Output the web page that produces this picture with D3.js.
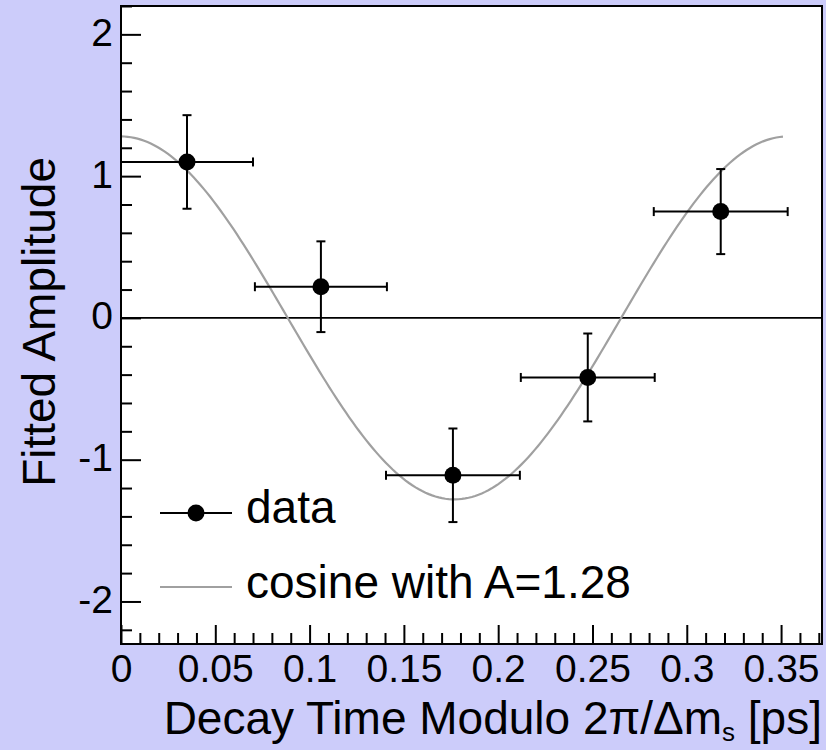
<!DOCTYPE html>
<html>
<head>
<meta charset="utf-8">
<script src="https://cdn.jsdelivr.net/npm/d3@7"></script>
<style>
  html, body { margin: 0; padding: 0; background: #ccccfa; }
  svg { display: block; }
  text { font-family: "Liberation Sans", Arial, Helvetica, sans-serif; fill: #000; }
</style>
</head>
<body>
<svg id="chart" width="826" height="750"></svg>
<script>
// ---- data ----
const binCenters = [0.035, 0.106, 0.176, 0.2475, 0.318];
const binHalfWidths = [0.035, 0.035, 0.0355, 0.0355, 0.0355];
const amplitudes = [1.10, 0.22, -1.11, -0.42, 0.75];
const amplitudeErrors = [0.33, 0.32, 0.33, 0.31, 0.30];

const cosineAmplitude = 1.28;
const cosinePeriod = 0.3536;   // 2*pi / 17.77 ps^-1
const cosineEnd = 0.351;

const xMajorTicks = [0, 0.05, 0.1, 0.15, 0.2, 0.25, 0.3, 0.35];
const xTickLabels = ["0", "0.05", "0.1", "0.15", "0.2", "0.25", "0.3", "0.35"];
const yMajorTicks = [-2, -1, 0, 1, 2];
const yTickLabels = ["-2", "-1", "0", "1", "2"];
const xDomain = [0, 0.3717];
const yDomain = [-2.3, 2.2];

const legendLabels = ["data", "cosine with A=1.28"];

// ---- layout ----
const svg = d3.select("#chart");
const L = 121, T = 6, R = 822, B = 644;
const x = d3.scaleLinear().domain(xDomain).range([L, R]);
const y = d3.scaleLinear().domain(yDomain).range([B, T]);

// plot area
svg.append("rect").attr("x", L).attr("y", T).attr("width", R - L).attr("height", B - T)
  .attr("fill", "#fff");

// minor ticks
const xMinor = d3.range(0, 38).map(i => i / 100).filter(v => v <= xDomain[1] && Math.abs(v * 20 - Math.round(v * 20)) > 1e-6);
const yMinor = d3.range(-11, 12).map(i => i / 5).filter(v => v >= yDomain[0] && v <= yDomain[1] && Math.abs(v - Math.round(v)) > 1e-6);

svg.append("g").attr("transform", `translate(0,${B})`)
  .call(d3.axisBottom(x).tickValues(xMinor).tickFormat("").tickSize(-11))
  .call(g => g.select(".domain").remove())
  .call(g => g.selectAll("line").attr("stroke", "#000").attr("stroke-width", 2));

svg.append("g").attr("transform", `translate(${L},0)`)
  .call(d3.axisLeft(y).tickValues(yMinor).tickFormat("").tickSize(-11))
  .call(g => g.select(".domain").remove())
  .call(g => g.selectAll("line").attr("stroke", "#000").attr("stroke-width", 2));

// major ticks + labels
svg.append("g").attr("transform", `translate(0,${B})`)
  .call(d3.axisBottom(x).tickValues(xMajorTicks).tickFormat((d, i) => xTickLabels[i]).tickSize(-19).tickPadding(10))
  .call(g => g.select(".domain").remove())
  .call(g => g.selectAll("line").attr("stroke", "#000").attr("stroke-width", 2))
  .call(g => g.selectAll("text").attr("font-size", 39).attr("fill", "#000")
    .style("font-family", '"Liberation Sans", Arial, sans-serif'));

svg.append("g").attr("transform", `translate(${L},0)`)
  .call(d3.axisLeft(y).tickValues(yMajorTicks).tickFormat((d, i) => yTickLabels[i]).tickSize(-20).tickPadding(8))
  .call(g => g.select(".domain").remove())
  .call(g => g.selectAll("line").attr("stroke", "#000").attr("stroke-width", 2))
  .call(g => g.selectAll("text").attr("font-size", 39).attr("dy", "0.28em").attr("fill", "#000")
    .style("font-family", '"Liberation Sans", Arial, sans-serif'));

// zero line
svg.append("line").attr("x1", L).attr("x2", R).attr("y1", y(0)).attr("y2", y(0))
  .attr("stroke", "#000").attr("stroke-width", 1.6);

// cosine curve
const curveT = d3.range(0, cosineEnd + 1e-9, cosineEnd / 200);
const line = d3.line().x(t => x(t)).y(t => y(cosineAmplitude * Math.cos(2 * Math.PI * t / cosinePeriod)));
svg.append("path").datum(curveT).attr("d", line)
  .attr("fill", "none").attr("stroke", "#a0a0a0").attr("stroke-width", 2.2);

// data points with error bars
const pts = binCenters.map((c, i) => ({ x: c, dx: binHalfWidths[i], y: amplitudes[i], dy: amplitudeErrors[i] }));
const cap = 4.5;
const g = svg.append("g").attr("stroke", "#000").attr("stroke-width", 2);
pts.forEach(p => {
  const cx = x(p.x), cy = y(p.y);
  const x0 = x(p.x - p.dx), x1 = x(p.x + p.dx);
  const y0 = y(p.y - p.dy), y1 = y(p.y + p.dy);
  g.append("line").attr("x1", x0).attr("x2", x1).attr("y1", cy).attr("y2", cy);
  g.append("line").attr("x1", cx).attr("x2", cx).attr("y1", y0).attr("y2", y1);
  g.append("line").attr("x1", x0).attr("x2", x0).attr("y1", cy - cap).attr("y2", cy + cap);
  g.append("line").attr("x1", x1).attr("x2", x1).attr("y1", cy - cap).attr("y2", cy + cap);
  g.append("line").attr("x1", cx - cap).attr("x2", cx + cap).attr("y1", y0).attr("y2", y0);
  g.append("line").attr("x1", cx - cap).attr("x2", cx + cap).attr("y1", y1).attr("y2", y1);
});
svg.append("g").selectAll("circle").data(pts).join("circle")
  .attr("cx", d => x(d.x)).attr("cy", d => y(d.y)).attr("r", 8.5).attr("fill", "#000");

// legend
const leg = svg.append("g");
leg.append("line").attr("x1", 160).attr("x2", 232).attr("y1", 513).attr("y2", 513)
  .attr("stroke", "#000").attr("stroke-width", 2);
leg.append("circle").attr("cx", 196).attr("cy", 513).attr("r", 8.5).attr("fill", "#000");
leg.append("text").attr("x", 246).attr("y", 523).attr("font-size", 46).text(legendLabels[0]);
leg.append("line").attr("x1", 160).attr("x2", 232).attr("y1", 587).attr("y2", 587)
  .attr("stroke", "#a0a0a0").attr("stroke-width", 2.2);
leg.append("text").attr("x", 246).attr("y", 598).attr("font-size", 46).text(legendLabels[1]);

// frame
svg.append("rect").attr("x", L).attr("y", T).attr("width", R - L).attr("height", B - T)
  .attr("fill", "none").attr("stroke", "#000").attr("stroke-width", 2);

// axis titles
const xt = svg.append("text").attr("x", 822).attr("y", 734).attr("text-anchor", "end").attr("font-size", 46);
xt.append("tspan").text("Decay Time Modulo 2\u03c0/\u0394m");
xt.append("tspan").attr("font-size", 26).attr("dy", 7).text("s");
xt.append("tspan").attr("dy", -7).text(" [ps]");

svg.append("text").attr("transform", "translate(55,157) rotate(-90)")
  .attr("text-anchor", "end").attr("font-size", 46).text("Fitted Amplitude");
</script>
</body>
</html>
